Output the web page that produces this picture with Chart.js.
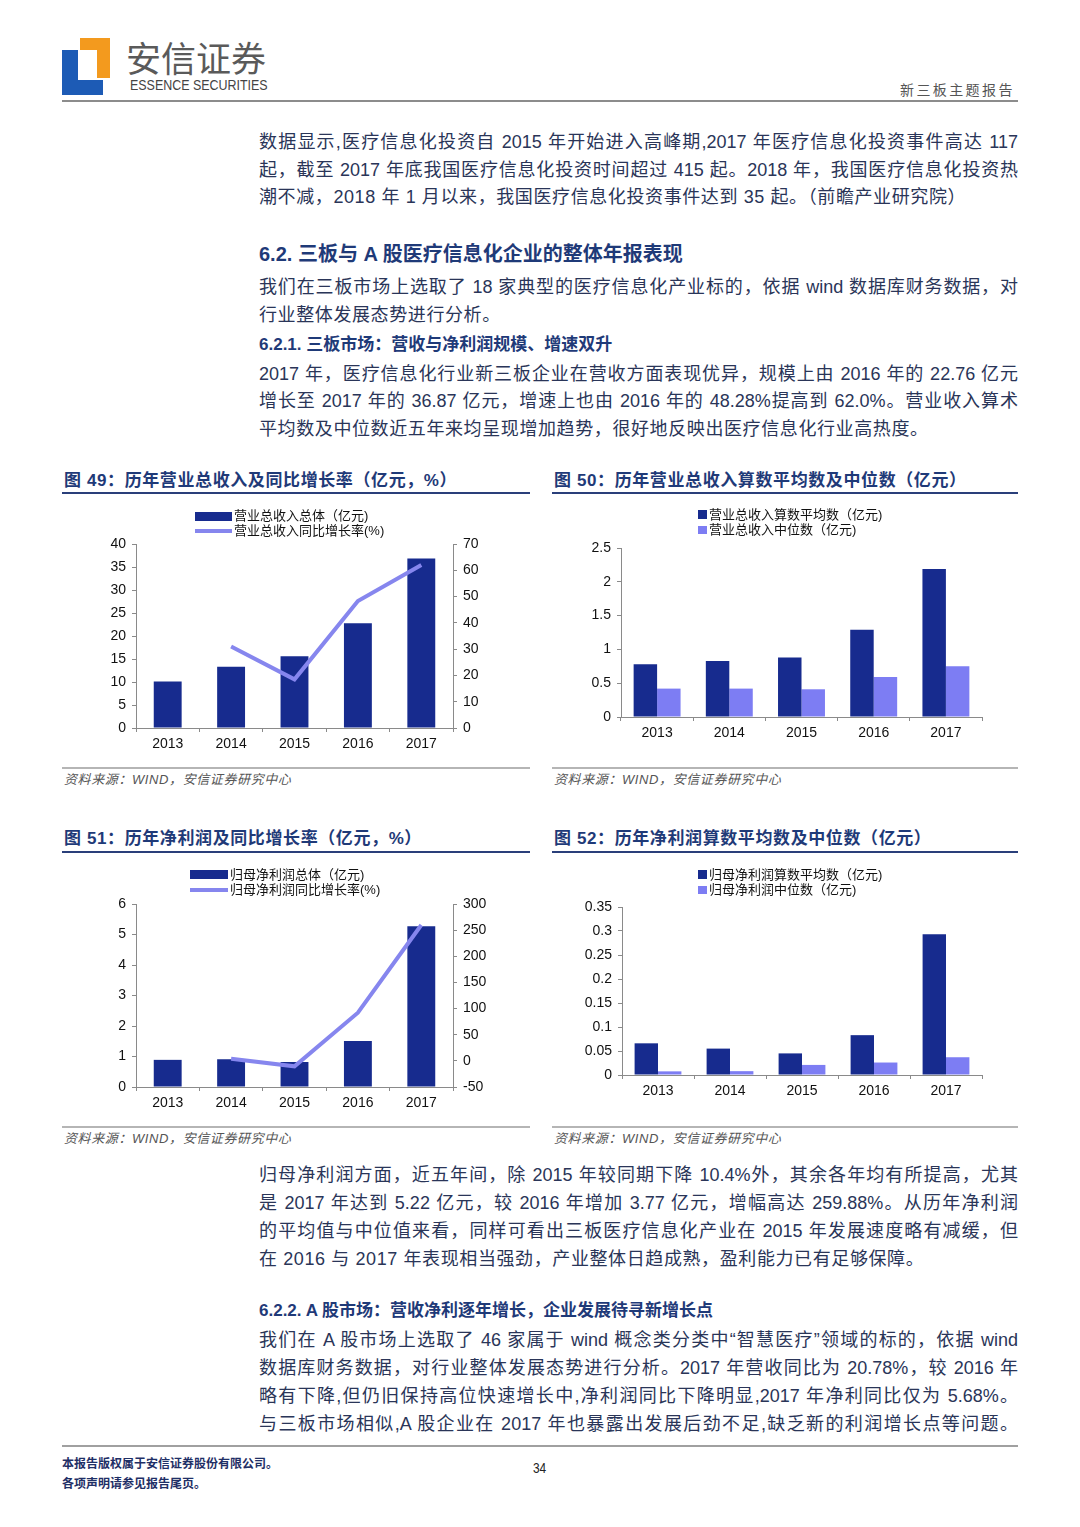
<!DOCTYPE html>
<html>
<head>
<meta charset="utf-8">
<script src="https://cdn.jsdelivr.net/npm/chart.js@4.4.1/dist/chart.umd.min.js"></script>
<style>
  body { margin: 0; background: #fff; }
  #page { position: relative; width: 1080px; height: 1527px; background: #fff; overflow: hidden;
          font-family: "Liberation Sans", "Noto Sans CJK SC", sans-serif; }
  .abs { position: absolute; }
  .ln { position: absolute; left: 259px; width: 759px; height: 28px; line-height: 28px;
        font-size: 18px; color: #2a3558; white-space: nowrap; letter-spacing: 0.6px; }
  .ln.j { text-align: justify; text-align-last: justify; white-space: normal; letter-spacing: 0; }
  .h2 { position: absolute; left: 259px; font-weight: 700; color: #1f3a78; white-space: nowrap; }
  .figt { position: absolute; font-size: 17px; font-weight: 700; color: #1f3a78; letter-spacing: 0.6px;
          white-space: nowrap; line-height: 20px; }
  .rule { position: absolute; height: 2px; }
  .src { position: absolute; font-size: 13px; font-style: italic; color: #555; letter-spacing: 0.6px;
         white-space: nowrap; line-height: 16px; }
  .box { position: absolute; }
  .lg { position: absolute; font-size: 13px; color: #111; line-height: 14px; white-space: nowrap; }
  .lg .row { position: relative; height: 14.5px; }
  .lg .sw { position: absolute; }
  .lg .tx { position: absolute; top: 0; }
</style>
</head>
<body>
<div id="page">

  <!-- header -->
  <div class="abs" style="left:62px;top:50px;width:16px;height:45px;background:#1d5bb5"></div>
  <div class="abs" style="left:62px;top:80px;width:41px;height:15px;background:#1d5bb5"></div>
  <div class="abs" style="left:80px;top:38px;width:30px;height:12px;background:#f39a1e"></div>
  <div class="abs" style="left:97px;top:38px;width:13px;height:40px;background:#f39a1e"></div>
  <div class="abs" style="left:126px;top:36px;font-size:35px;line-height:42px;color:#5a5a5a;font-family:'Noto Sans CJK SC'">安信证券</div>
  <div class="abs" style="left:130px;top:77px;font-size:15px;line-height:16px;color:#444;white-space:nowrap;transform:scaleX(0.83);transform-origin:left top">ESSENCE SECURITIES</div>
  <div class="abs" style="left:900px;top:80px;font-size:14px;line-height:18px;color:#555;letter-spacing:2.4px;font-family:'Noto Sans CJK SC'">新三板主题报告</div>
  <div class="rule" style="left:62px;top:100px;width:956px;height:1.5px;background:#8c8c8c"></div>

  <!-- text block 1 -->
  <div class="ln j" style="top:128px">数据显示,医疗信息化投资自 2015 年开始进入高峰期,2017 年医疗信息化投资事件高达 117</div>
  <div class="ln j" style="top:156px">起，截至 2017 年底我国医疗信息化投资时间超过 415 起。2018 年，我国医疗信息化投资热</div>
  <div class="ln" style="top:183px">潮不减，2018 年 1 月以来，我国医疗信息化投资事件达到 35 起。（前瞻产业研究院）</div>

  <div class="h2" style="top:240px;font-size:20px;line-height:28px">6.2. 三板与 A 股医疗信息化企业的整体年报表现</div>
  <div class="ln j" style="top:273px">我们在三板市场上选取了 18 家典型的医疗信息化产业标的，依据 wind 数据库财务数据，对</div>
  <div class="ln" style="top:301px">行业整体发展态势进行分析。</div>
  <div class="h2" style="top:331px;font-size:17px;line-height:28px">6.2.1. 三板市场：营收与净利润规模、增速双升</div>
  <div class="ln j" style="top:360px">2017 年，医疗信息化行业新三板企业在营收方面表现优异，规模上由 2016 年的 22.76 亿元</div>
  <div class="ln j" style="top:387px">增长至 2017 年的 36.87 亿元，增速上也由 2016 年的 48.28%提高到 62.0%。营业收入算术</div>
  <div class="ln" style="top:415px">平均数及中位数近五年来均呈现增加趋势，很好地反映出医疗信息化行业高热度。</div>

  <!-- figure titles row 1 -->
  <div class="figt" style="left:64px;top:471px">图 49：历年营业总收入及同比增长率（亿元，%）</div>
  <div class="figt" style="left:554px;top:471px">图 50：历年营业总收入算数平均数及中位数（亿元）</div>
  <div class="rule" style="left:62px;top:492px;width:468px;background:#2a3f7a"></div>
  <div class="rule" style="left:552px;top:492px;width:466px;background:#2a3f7a"></div>

  <div class="box" style="left:62px;top:500px;width:468px;height:262px"><canvas id="c49"></canvas></div>
  <div class="box" style="left:552px;top:500px;width:466px;height:262px"><canvas id="c50"></canvas></div>

  <div class="lg" style="left:195px;top:509px">
    <div class="row"><div class="sw" style="left:0;top:3px;width:37px;height:9px;background:#172b8e"></div><div class="tx" style="left:39px">营业总收入总体（亿元)</div></div>
    <div class="row"><div class="sw" style="left:0;top:5px;width:37px;height:4px;background:#8686ee"></div><div class="tx" style="left:39px">营业总收入同比增长率(%)</div></div>
  </div>
  <div class="lg" style="left:698px;top:508px">
    <div class="row"><div class="sw" style="left:0;top:2px;width:9px;height:9px;background:#172b8e"></div><div class="tx" style="left:11px">营业总收入算数平均数（亿元)</div></div>
    <div class="row"><div class="sw" style="left:0;top:3px;width:9px;height:8px;background:#7d7df3"></div><div class="tx" style="left:11px">营业总收入中位数（亿元)</div></div>
  </div>

  <div class="rule" style="left:62px;top:767px;width:468px;background:#b5b5b5"></div>
  <div class="rule" style="left:552px;top:767px;width:466px;background:#b5b5b5"></div>
  <div class="src" style="left:64px;top:772px">资料来源：WIND，安信证券研究中心</div>
  <div class="src" style="left:554px;top:772px">资料来源：WIND，安信证券研究中心</div>

  <!-- figure titles row 2 -->
  <div class="figt" style="left:64px;top:829px">图 51：历年净利润及同比增长率（亿元，%）</div>
  <div class="figt" style="left:554px;top:829px">图 52：历年净利润算数平均数及中位数（亿元）</div>
  <div class="rule" style="left:62px;top:851px;width:468px;background:#2a3f7a"></div>
  <div class="rule" style="left:552px;top:851px;width:466px;background:#2a3f7a"></div>

  <div class="box" style="left:62px;top:858px;width:468px;height:262px"><canvas id="c51"></canvas></div>
  <div class="box" style="left:552px;top:858px;width:466px;height:262px"><canvas id="c52"></canvas></div>

  <div class="lg" style="left:190px;top:868px">
    <div class="row"><div class="sw" style="left:0;top:2px;width:38px;height:9px;background:#172b8e"></div><div class="tx" style="left:40px">归母净利润总体（亿元)</div></div>
    <div class="row"><div class="sw" style="left:0;top:5px;width:38px;height:4px;background:#8686ee"></div><div class="tx" style="left:40px">归母净利润同比增长率(%)</div></div>
  </div>
  <div class="lg" style="left:698px;top:868px">
    <div class="row"><div class="sw" style="left:0;top:2px;width:9px;height:9px;background:#172b8e"></div><div class="tx" style="left:11px">归母净利润算数平均数（亿元)</div></div>
    <div class="row"><div class="sw" style="left:0;top:3px;width:9px;height:8px;background:#7d7df3"></div><div class="tx" style="left:11px">归母净利润中位数（亿元)</div></div>
  </div>

  <div class="rule" style="left:62px;top:1126px;width:468px;background:#b5b5b5"></div>
  <div class="rule" style="left:552px;top:1126px;width:466px;background:#b5b5b5"></div>
  <div class="src" style="left:64px;top:1131px">资料来源：WIND，安信证券研究中心</div>
  <div class="src" style="left:554px;top:1131px">资料来源：WIND，安信证券研究中心</div>

  <!-- text block 2 -->
  <div class="ln j" style="top:1161px">归母净利润方面，近五年间，除 2015 年较同期下降 10.4%外，其余各年均有所提高，尤其</div>
  <div class="ln j" style="top:1189px">是 2017 年达到 5.22 亿元，较 2016 年增加 3.77 亿元，增幅高达 259.88%。从历年净利润</div>
  <div class="ln j" style="top:1217px">的平均值与中位值来看，同样可看出三板医疗信息化产业在 2015 年发展速度略有减缓，但</div>
  <div class="ln" style="top:1245px">在 2016 与 2017 年表现相当强劲，产业整体日趋成熟，盈利能力已有足够保障。</div>

  <div class="h2" style="top:1297px;font-size:17px;line-height:28px">6.2.2. A 股市场：营收净利逐年增长，企业发展待寻新增长点</div>
  <div class="ln j" style="top:1326px">我们在 A 股市场上选取了 46 家属于 wind 概念类分类中“智慧医疗”领域的标的，依据 wind</div>
  <div class="ln j" style="top:1354px">数据库财务数据，对行业整体发展态势进行分析。2017 年营收同比为 20.78%，较 2016 年</div>
  <div class="ln j" style="top:1382px">略有下降,但仍旧保持高位快速增长中,净利润同比下降明显,2017 年净利同比仅为 5.68%。</div>
  <div class="ln j" style="top:1410px">与三板市场相似,A 股企业在 2017 年也暴露出发展后劲不足,缺乏新的利润增长点等问题。</div>

  <!-- footer -->
  <div class="rule" style="left:62px;top:1445px;width:956px;height:1.5px;background:#a0a0a0"></div>
  <div class="abs" style="left:62px;top:1455px;font-size:12px;line-height:16px;font-weight:700;color:#1f2f66;font-family:'Noto Sans CJK SC'">本报告版权属于安信证券股份有限公司。</div>
  <div class="abs" style="left:62px;top:1475px;font-size:12px;line-height:16px;font-weight:700;color:#1f2f66;font-family:'Noto Sans CJK SC'">各项声明请参见报告尾页。</div>
  <div class="abs" style="left:533px;top:1460px;font-size:14px;line-height:16px;color:#222;transform:scaleX(0.85);transform-origin:left top">34</div>
</div>

<script>
// categories
const years = ['2013', '2014', '2015', '2016', '2017'];

// fig 49: revenue total (亿元) and yoy growth (%)
const revenueTotal = [10.1, 13.3, 15.6, 22.76, 36.87];
const revenueGrowth = [null, 31, 18.5, 48.28, 62.0];

// fig 50: revenue mean / median (亿元)
const revenueMean = [0.78, 0.83, 0.88, 1.29, 2.19];
const revenueMedian = [0.42, 0.42, 0.41, 0.59, 0.75];

// fig 51: net profit total (亿元) and yoy growth (%)
const profitTotal = [0.89, 0.91, 0.82, 1.51, 5.27];
const profitGrowth = [null, 4, -10.4, 92, 259.88];

// fig 52: net profit mean / median (亿元)
const profitMean = [0.066, 0.055, 0.045, 0.083, 0.293];
const profitMedian = [0.0076, 0.008, 0.021, 0.026, 0.037];

const NAVY = '#172b8e';
const LILAC = '#7d7df3';
const LINE = '#8686ee';
const AXIS = '#8a8a8a';

Chart.defaults.font.family = "'Liberation Sans', Arial, sans-serif";
Chart.defaults.font.size = 14;
Chart.defaults.color = '#111';

const trim = v => String(+Number(v).toFixed(3));

function yAxis(pos, min, max, step, width) {
  return {
    position: pos, min: min, max: max,
    ticks: { stepSize: step, padding: 6, callback: trim },
    grid: { drawOnChartArea: false, drawTicks: true, tickLength: 4, color: AXIS },
    border: { color: AXIS },
    afterFit: s => { s.width = width; }
  };
}

function xAxis() {
  return {
    offset: true,
    ticks: { padding: 4, maxRotation: 0 },
    grid: { offset: true, drawOnChartArea: false, drawTicks: true, tickLength: 4, color: AXIS },
    border: { color: AXIS },
    afterFit: s => { s.height = 26; }
  };
}

function baseOptions(padding, scales) {
  return {
    responsive: true,
    maintainAspectRatio: false,
    animation: false,
    layout: { padding: padding },
    plugins: { legend: { display: false }, tooltip: { enabled: false } },
    scales: scales
  };
}

// fig 49
new Chart(document.getElementById('c49'), {
  type: 'bar',
  data: {
    labels: years,
    datasets: [
      { type: 'line', label: '营业总收入同比增长率(%)', data: revenueGrowth, yAxisID: 'y1',
        borderColor: LINE, borderWidth: 4, pointRadius: 0, tension: 0, order: 0 },
      { label: '营业总收入总体（亿元)', data: revenueTotal, yAxisID: 'y',
        backgroundColor: NAVY, barPercentage: 0.44, categoryPercentage: 1, order: 1 }
    ]
  },
  options: baseOptions({ top: 44, bottom: 8, left: 0, right: 37 }, {
    x: xAxis(),
    y: yAxis('left', 0, 40, 5, 74),
    y1: yAxis('right', 0, 70, 10, 40)
  })
});

// fig 50
new Chart(document.getElementById('c50'), {
  type: 'bar',
  data: {
    labels: years,
    datasets: [
      { label: '营业总收入算数平均数（亿元)', data: revenueMean, backgroundColor: NAVY,
        barPercentage: 1, categoryPercentage: 0.65 },
      { label: '营业总收入中位数（亿元)', data: revenueMedian, backgroundColor: LILAC,
        barPercentage: 1, categoryPercentage: 0.65 }
    ]
  },
  options: baseOptions({ top: 48, bottom: 19, left: 0, right: 36 }, {
    x: xAxis(),
    y: yAxis('left', 0, 2.5, 0.5, 69)
  })
});

// fig 51
new Chart(document.getElementById('c51'), {
  type: 'bar',
  data: {
    labels: years,
    datasets: [
      { type: 'line', label: '归母净利润同比增长率(%)', data: profitGrowth, yAxisID: 'y1',
        borderColor: LINE, borderWidth: 4, pointRadius: 0, tension: 0, order: 0 },
      { label: '归母净利润总体（亿元)', data: profitTotal, yAxisID: 'y',
        backgroundColor: NAVY, barPercentage: 0.44, categoryPercentage: 1, order: 1 }
    ]
  },
  options: baseOptions({ top: 46, bottom: 7, left: 0, right: 37 }, {
    x: xAxis(),
    y: yAxis('left', 0, 6, 1, 74),
    y1: yAxis('right', -50, 300, 50, 40)
  })
});

// fig 52
new Chart(document.getElementById('c52'), {
  type: 'bar',
  data: {
    labels: years,
    datasets: [
      { label: '归母净利润算数平均数（亿元)', data: profitMean, backgroundColor: NAVY,
        barPercentage: 1, categoryPercentage: 0.65 },
      { label: '归母净利润中位数（亿元)', data: profitMedian, backgroundColor: LILAC,
        barPercentage: 1, categoryPercentage: 0.65 }
    ]
  },
  options: baseOptions({ top: 49, bottom: 19, left: 0, right: 36 }, {
    x: xAxis(),
    y: yAxis('left', 0, 0.35, 0.05, 70)
  })
});
</script>
</body>
</html>
